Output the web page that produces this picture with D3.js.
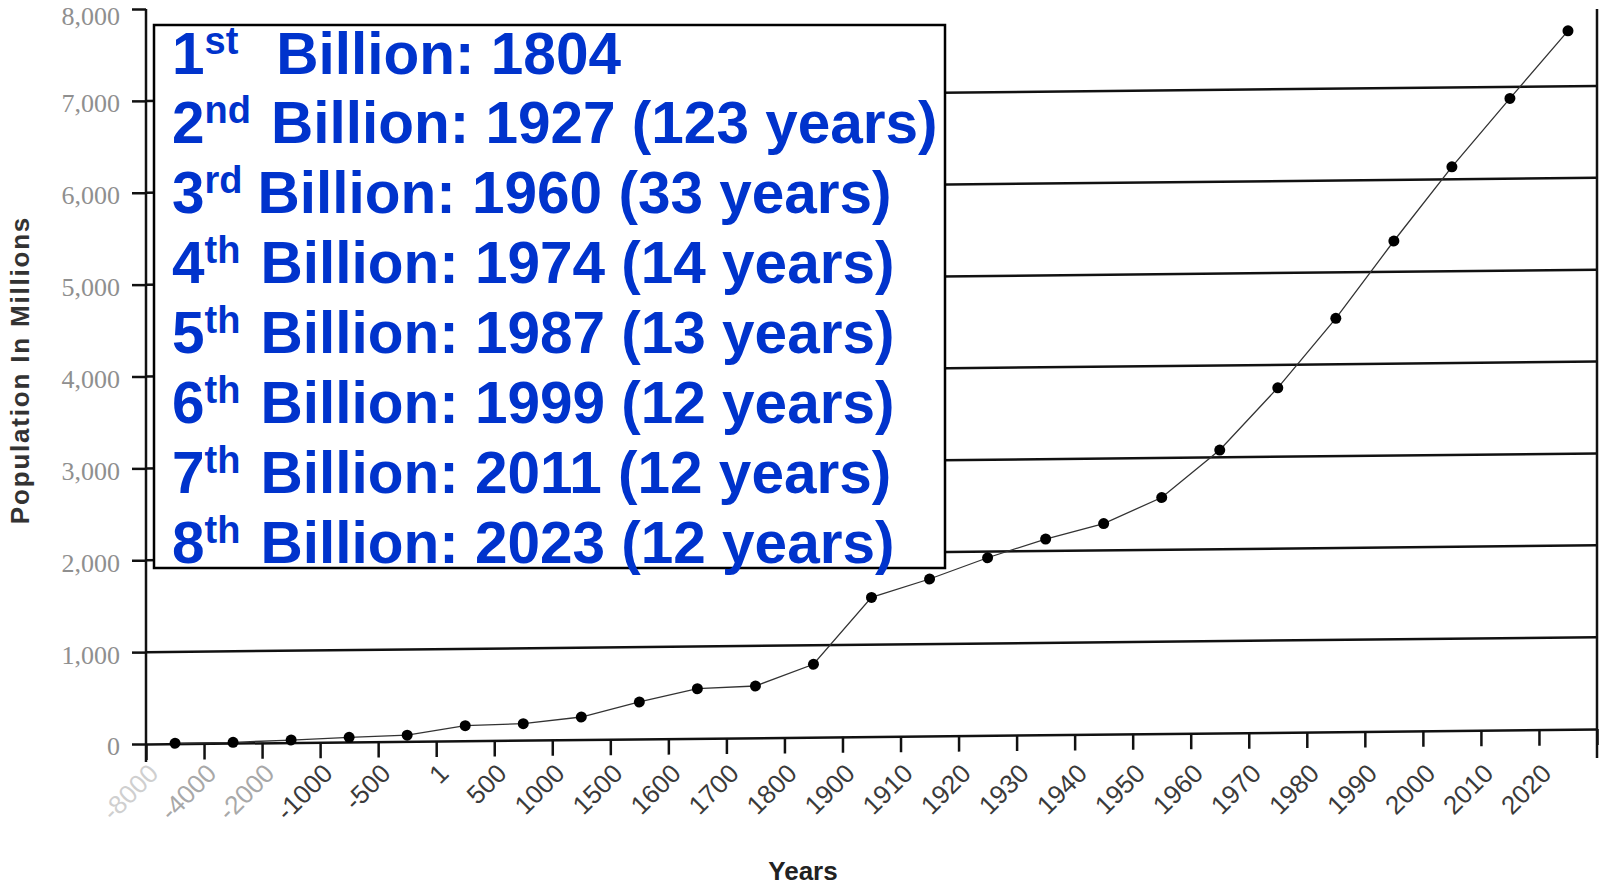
<!DOCTYPE html>
<html><head><meta charset="utf-8">
<script src="https://cdn.jsdelivr.net/npm/d3@7"></script>
<style>
html,body{margin:0;padding:0;background:#fff;}
svg{display:block;}
</style></head>
<body>
<svg id="chart" width="1602" height="886"></svg>
<script>
// ---- data ----
const yearLabels = ["-8000","-4000","-2000","-1000","-500","1","500","1000","1500","1600","1700","1800","1900","1910","1920","1930","1940","1950","1960","1970","1980","1990","2000","2010","2020"];
const population = [5, 8, 27, 50, 67, 164, 179, 245, 402, 540, 563, 793, 1514, 1708, 1933, 2130, 2292, 2569, 3079, 3750, 4500, 5335, 6136, 6874, 7603];
const yTicks = [0, 1000, 2000, 3000, 4000, 5000, 6000, 7000, 8000];
const yTickLabels = ["0", "1,000", "2,000", "3,000", "4,000", "5,000", "6,000", "7,000", "8,000"];
const gridValues = [1000, 2000, 3000, 4000, 5000, 6000, 7000];
const milestoneNumbers = ["1", "2", "3", "4", "5", "6", "7", "8"];
const milestoneSuffixes = ["st", "nd", "rd", "th", "th", "th", "th", "th"];
const milestoneTexts = ["Billion: 1804", "Billion: 1927 (123 years)", "Billion: 1960 (33 years)", "Billion: 1974 (14 years)", "Billion: 1987 (13 years)", "Billion: 1999 (12 years)", "Billion: 2011 (12 years)", "Billion: 2023 (12 years)"];
const yTitle = "Population In Millions";
const xTitle = "Years";

// ---- layout / style ----
const X0 = 146, X1 = 1597, Y0 = 744, Y1 = 9;
const skewDeg = -0.59;
const supGap = [38, 20, 15, 20, 20, 20, 20, 20];
const labelColors = ["#cfcfcf", "#a8a8a8", "#a8a8a8"];

const svg = d3.select("#chart");
const x = d3.scaleLinear().domain([0, yearLabels.length]).range([X0, X1]);
const y = d3.scaleLinear().domain([0, 8000]).range([Y0, Y1]);

// skewed plot group (scan is slightly tilted)
const plot = svg.append("g")
  .attr("transform", `translate(${X0},${Y0}) skewY(${skewDeg}) translate(${-X0},${-Y0})`);

// gridlines
plot.append("g").selectAll("line").data(gridValues).join("line")
  .attr("x1", X0).attr("x2", X1)
  .attr("y1", d => y(d)).attr("y2", d => y(d))
  .attr("stroke", "#111").attr("stroke-width", 2.5);

// x axis (ticks only)
const xAxis = d3.axisBottom(x)
  .tickValues(d3.range(0, yearLabels.length + 1))
  .tickSize(16).tickSizeOuter(0).tickFormat("");
const gx = plot.append("g").attr("transform", `translate(0,${Y0})`).call(xAxis);
gx.select(".domain").attr("stroke", "#111").attr("stroke-width", 2.5);
gx.selectAll(".tick line").attr("stroke", "#111").attr("stroke-width", 2.5);

// series line
const line = d3.line().x((d, i) => x(i + 0.5)).y(d => y(d));
plot.append("path").datum(population)
  .attr("d", line).attr("fill", "none")
  .attr("stroke", "#333").attr("stroke-width", 1.3);

plot.append("g").selectAll("circle").data(population).join("circle")
  .attr("cx", (d, i) => x(i + 0.5)).attr("cy", d => y(d))
  .attr("r", 5.5).attr("fill", "#000");

// right frame line
svg.append("line")
  .attr("x1", x(yearLabels.length)).attr("x2", x(yearLabels.length))
  .attr("y1", y(8000)).attr("y2", Y0 + 14)
  .attr("stroke", "#111").attr("stroke-width", 2.5);

// y axis
const yAxis = d3.axisLeft(y).tickValues(yTicks)
  .tickSize(14).tickSizeOuter(0).tickPadding(12)
  .tickFormat((d, i) => yTickLabels[i]);
const gy = svg.append("g").attr("transform", `translate(${X0},0)`).call(yAxis);
gy.select(".domain").remove();
gy.selectAll(".tick line").attr("stroke", "#111").attr("stroke-width", 2.5);
gy.selectAll(".tick text")
  .attr("font-family", "'Liberation Serif', 'Times New Roman', serif")
  .attr("font-size", 26).attr("fill", "#8f8f8f")
  .attr("dy", d => d === 8000 ? "0.6em" : "0.42em");
svg.append("line")
  .attr("x1", X0).attr("x2", X0).attr("y1", y(8000)).attr("y2", Y0 + 18)
  .attr("stroke", "#111").attr("stroke-width", 2.5);

// x tick labels
svg.append("g").selectAll("text").data(yearLabels).join("text")
  .attr("transform", (d, i) => `translate(${x(i) + 14},${Y0 + 31}) rotate(-45)`)
  .attr("text-anchor", "end")
  .attr("font-family", "'Liberation Sans', Arial, sans-serif")
  .attr("font-size", 26)
  .attr("fill", (d, i) => labelColors[i] || "#3a3a3a")
  .text(d => d);

// axis titles
svg.append("text")
  .attr("x", 803).attr("y", 880).attr("text-anchor", "middle")
  .attr("font-family", "'Liberation Sans', Arial, sans-serif")
  .attr("font-weight", "bold").attr("font-size", 26).attr("fill", "#222")
  .text(xTitle);
svg.append("text")
  .attr("transform", "translate(29,370) rotate(-90)")
  .attr("text-anchor", "middle")
  .attr("font-family", "'Liberation Sans', Arial, sans-serif")
  .attr("font-weight", "bold").attr("font-size", 26).attr("letter-spacing", 1.8)
  .attr("fill", "#333")
  .text(yTitle);

// milestone box
svg.append("rect")
  .attr("x", 154).attr("y", 25).attr("width", 791).attr("height", 543)
  .attr("fill", "#fff").attr("stroke", "#000").attr("stroke-width", 2.5);

const box = svg.append("g")
  .attr("font-family", "'Liberation Sans', Arial, sans-serif")
  .attr("font-weight", "bold").attr("fill", "#0033cc");
milestoneNumbers.forEach((n, i) => {
  const t = box.append("text").attr("x", 172).attr("y", 73.5 + i * 69.9).attr("font-size", 58.5);
  t.append("tspan").text(n);
  t.append("tspan").attr("font-size", 38).attr("dy", -20).text(milestoneSuffixes[i]);
  t.append("tspan").attr("dy", 20).attr("dx", supGap[i]).text(milestoneTexts[i]);
});
</script>
</body></html>
